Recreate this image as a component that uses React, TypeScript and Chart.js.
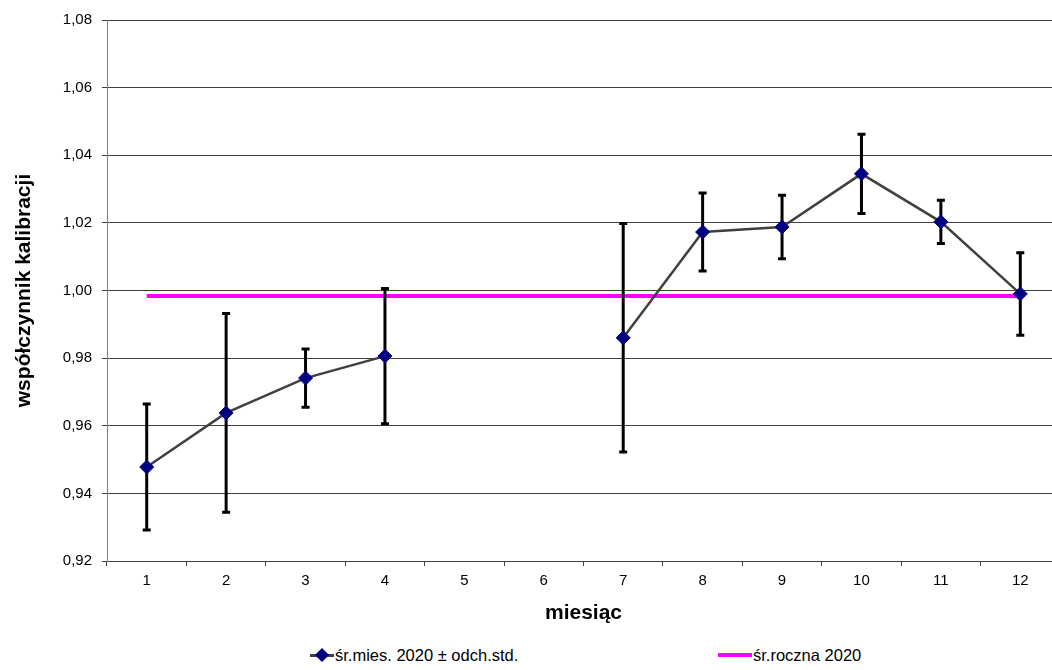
import React, { useEffect, useRef } from "react";
import { Chart, registerables } from "chart.js";

Chart.register(...registerables);

const months = ["1", "2", "3", "4", "5", "6", "7", "8", "9", "10", "11", "12"];
const monthlyMean = [0.9478, 0.9638, 0.9741, 0.9806, null, null, 0.986, 1.0173, 1.0188, 1.0345, 1.0203, 0.999];
const monthlySd = [0.0186, 0.0294, 0.0086, 0.02, null, null, 0.0338, 0.0115, 0.0094, 0.0117, 0.0064, 0.0122];
const annualMean = [0.9984, 0.9984, 0.9984, 0.9984, 0.9984, 0.9984, 0.9984, 0.9984, 0.9984, 0.9984, 0.9984, 0.9984];

const seriesLabel = "śr.mies. 2020 ± odch.std.";
const annualLabel = "śr.roczna 2020";
const xTitle = "miesiąc";
const yTitle = "współczynnik kalibracji";

const FONT = "'Liberation Sans', Arial, sans-serif";

const errorBarPlugin = {
  id: "errorBars",
  beforeDatasetDraw(chart: any, args: any) {
    if (args.index !== 0) return;
    const { ctx, scales } = chart;
    const xs = scales.x;
    const ys = scales.y;
    ctx.save();
    ctx.strokeStyle = "#000000";
    ctx.lineWidth = 3;
    ctx.lineCap = "butt";
    monthlyMean.forEach((m, i) => {
      const sd = monthlySd[i];
      if (m == null || sd == null) return;
      const x = xs.getPixelForValue(i);
      const yHi = ys.getPixelForValue(m + sd);
      const yLo = ys.getPixelForValue(m - sd);
      ctx.beginPath();
      ctx.moveTo(x, yHi);
      ctx.lineTo(x, yLo);
      ctx.stroke();
      ctx.beginPath();
      ctx.moveTo(x - 4, yHi);
      ctx.lineTo(x + 4, yHi);
      ctx.moveTo(x - 4, yLo);
      ctx.lineTo(x + 4, yLo);
      ctx.stroke();
    });
    ctx.restore();
  },
};

export default function App() {
  const ref = useRef<HTMLCanvasElement | null>(null);

  useEffect(() => {
    if (!ref.current) return;
    const chart = new Chart(ref.current, {
      type: "line",
      data: {
        labels: months,
        datasets: [
          {
            label: seriesLabel,
            data: monthlyMean,
            borderColor: "#404040",
            borderWidth: 2.5,
            pointStyle: "rectRot",
            pointRadius: 7,
            pointBackgroundColor: "#000080",
            pointBorderColor: "#000080",
            pointBorderWidth: 1,
            spanGaps: false,
            tension: 0,
          },
          {
            label: annualLabel,
            data: annualMean,
            borderColor: "#FF00FF",
            borderWidth: 4,
            pointRadius: 0,
            tension: 0,
          },
        ],
      },
      options: {
        responsive: false,
        animation: false,
        layout: { padding: { top: 20, right: 10, bottom: 0, left: 0 } },
        plugins: {
          legend: { display: false },
          tooltip: { enabled: false },
        },
        scales: {
          x: {
            type: "category",
            offset: true,
            grid: {
              display: true,
              offset: true,
              drawOnChartArea: false,
              drawTicks: true,
              tickLength: 5,
              color: "#404040",
            },
            border: { display: true, color: "#404040", width: 1 },
            ticks: {
              color: "#000",
              font: { family: FONT, size: 15 },
              padding: 6,
              maxRotation: 0,
            },
            title: {
              display: true,
              text: xTitle,
              color: "#000",
              font: { family: FONT, size: 21, weight: "bold" },
              padding: { top: 0, bottom: 14 },
            },
            afterFit(scale: any) {
              scale.height = 79;
            },
          },
          y: {
            min: 0.92,
            max: 1.08,
            ticks: {
              stepSize: 0.02,
              color: "#000",
              font: { family: FONT, size: 15 },
              padding: 10,
              callback: (v: any) => Number(v).toFixed(2).replace(".", ","),
            },
            grid: {
              display: true,
              drawOnChartArea: true,
              tickLength: 5,
              color: "#404040",
              lineWidth: 1,
            },
            border: { display: true, color: "#808080", width: 1 },
            title: {
              display: true,
              text: yTitle,
              color: "#000",
              font: { family: FONT, size: 21, weight: "bold" },
              padding: { top: 12, bottom: 0 },
            },
            afterFit(scale: any) {
              scale.width = 107;
            },
          },
        },
      },
      plugins: [errorBarPlugin],
    });
    return () => chart.destroy();
  }, []);

  return (
    <div
      style={{
        position: "absolute",
        left: 0,
        top: 0,
        width: 1052,
        height: 670,
        overflow: "hidden",
        background: "#fff",
        fontFamily: FONT,
      }}
    >
      <canvas ref={ref} width={1070} height={640} style={{ display: "block", width: 1070, height: 640 }} />
      <div style={{ position: "absolute", left: 310, top: 644, height: 22, display: "flex", alignItems: "center" }}>
        <div style={{ position: "relative", width: 24, height: 22 }}>
          <div style={{ position: "absolute", left: 0, top: 10, width: 24, height: 3, background: "#404040" }} />
          <div
            style={{
              position: "absolute",
              left: 7,
              top: 6,
              width: 10,
              height: 10,
              background: "#000080",
              transform: "rotate(45deg)",
            }}
          />
        </div>
        <span style={{ fontSize: 16.5, color: "#000", marginLeft: 1, whiteSpace: "nowrap" }}>{seriesLabel}</span>
      </div>
      <div style={{ position: "absolute", left: 718, top: 644, height: 22, display: "flex", alignItems: "center" }}>
        <div style={{ width: 34, height: 4, background: "#FF00FF" }} />
        <span style={{ fontSize: 16.5, color: "#000", marginLeft: 1, whiteSpace: "nowrap" }}>{annualLabel}</span>
      </div>
    </div>
  );
}
